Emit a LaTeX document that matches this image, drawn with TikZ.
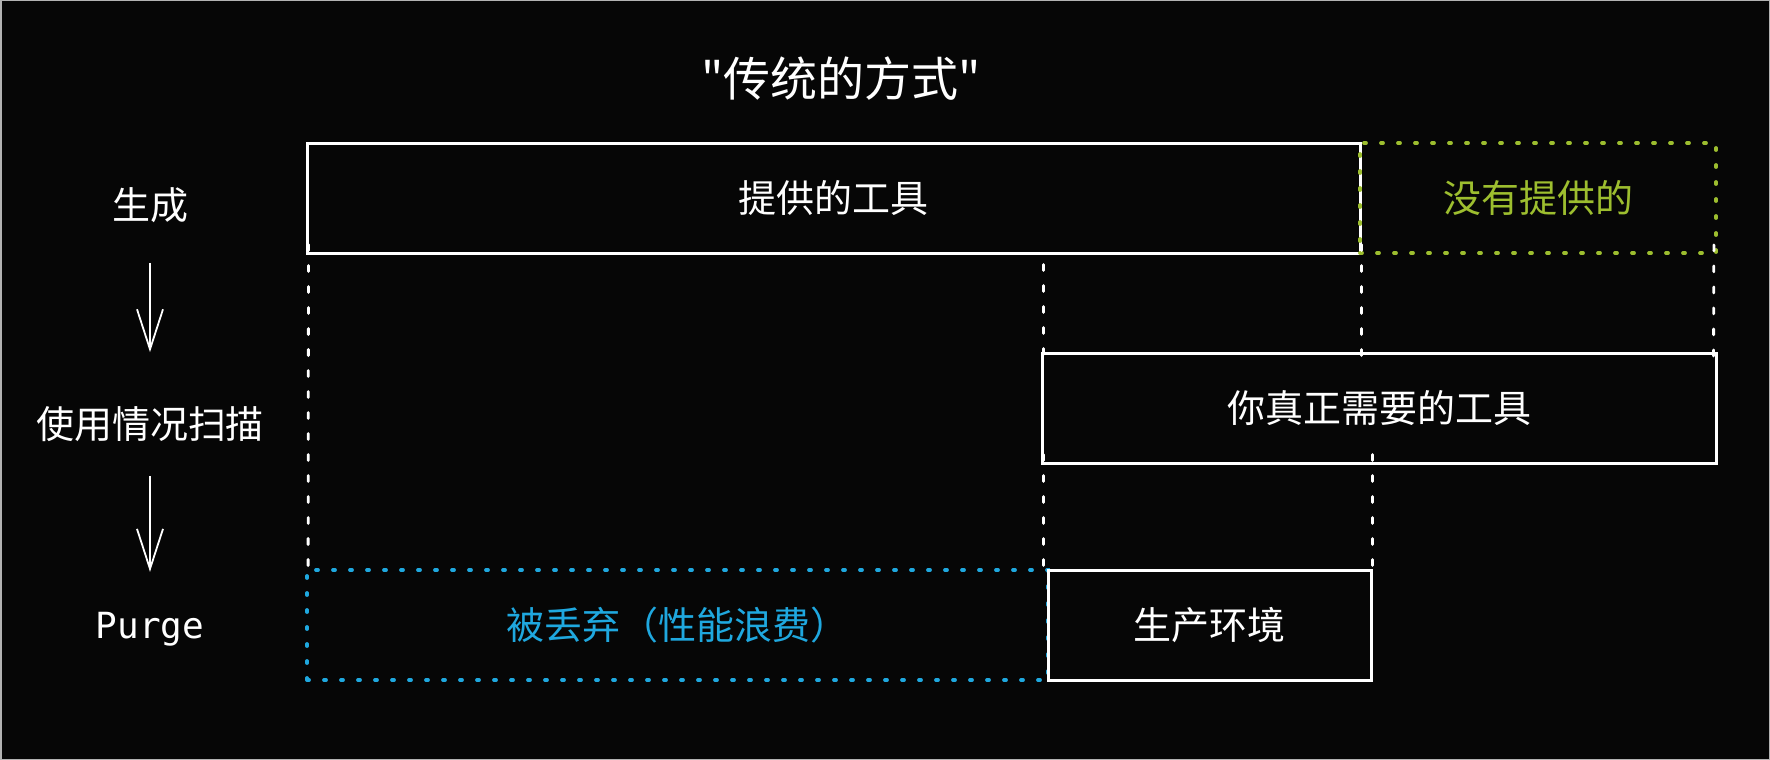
\documentclass[tikz,border=0pt]{standalone}
\usepackage{fontspec}
\newfontfamily\cjk{Noto Sans CJK SC}
\newfontfamily\mono{DejaVu Sans Mono}
\usetikzlibrary{positioning,arrows.meta}
\definecolor{sfondo}{HTML}{060606}
\definecolor{verde}{HTML}{9DBE2F}
\definecolor{blu}{HTML}{1FA8DF}

\begin{document}
\begin{tikzpicture}[x=1pt,y=-1pt]

% definizione stile dei box
\tikzset{mybox/.style={rectangle, draw=white, line width=3pt, minimum width=#1, minimum height=110pt, inner sep=0pt, text=white, font=\cjk\fontsize{38}{44}\selectfont}}
% box tratteggiato colorato
\tikzset{mydots/.style={rectangle, draw=#1, text=#1, line width=3.8pt, line cap=round, dash pattern=on 2pt off 15pt, inner sep=0pt, minimum height=110pt, font=\cjk\fontsize{38}{44}\selectfont}}
% linee guida bianche
\tikzset{myguide/.style={draw=white, line width=2.8pt, line cap=round, dash pattern=on 6pt off 15pt}}
% etichette a sinistra e frecce
\tikzset{mylabel/.style={text=white, font=\cjk\fontsize{38}{44}\selectfont, inner sep=0pt}}
\tikzset{myarrow/.style={draw=white, line width=1.8pt, -{Straight Barb[length=40pt,width=26pt,line width=1.8pt]}}}

% sfondo
\fill[sfondo] (0,0) rectangle (1770,760);
\useasboundingbox (0,0) rectangle (1770,760);
\draw[gray!60, line width=1.5pt] (0.75,0.75) rectangle (1769.25,759.25);

% titolo
\node[text=white, font=\cjk\fontsize{47}{52}\selectfont] (titolo) at (841,79) {"传统的方式"};

% box principali
\node[mybox=1053pt] (fornito) at (833.5,198) {提供的工具};
\node[mydots=verde, minimum width=356pt] (nonfornito) at (1538,198) {没有提供的};
\node[mybox=674pt] (necessario) at (1379,408) {你真正需要的工具};
\node[mydots=blu, minimum width=741pt] (scartato) at (677.5,625) {被丢弃（性能浪费）};
\node[mybox=323pt] (produzione) at (1209.5,625.5) {生产环境};

% linee guida tratteggiate
\draw[myguide] ([xshift=3pt,yshift=10pt]fornito.south west) -- ([xshift=3pt]scartato.north west);
\draw[myguide] (necessario.north west |- fornito.south) ++(3,10) -- ([xshift=3pt,yshift=-10pt]necessario.north west);
\draw[myguide] ([yshift=10pt]fornito.south east) -- ([yshift=-10pt]fornito.south east |- necessario.north);
\draw[myguide] ([xshift=-4pt,yshift=10pt]nonfornito.south east) -- ([xshift=-4pt,yshift=-10pt]necessario.north east);
\draw[myguide] ([xshift=3pt,yshift=10pt]necessario.south west) -- ([xshift=-3pt,yshift=-10pt]produzione.north west);
\draw[myguide] ([yshift=10pt]produzione.north east |- necessario.south) -- ([yshift=-10pt]produzione.north east);

% fasi a sinistra
\node[mylabel] (genera) at (150,205) {生成};
\node[mylabel] (scansione) at (150,424) {使用情况扫描};
\node[mylabel, font=\mono\fontsize{36}{40}\selectfont] (purge) at (150,629) {Purge};

% frecce tra le fasi
\draw[myarrow, shorten <=40pt, shorten >=54pt] (genera.south) -- (scansione.north);
\draw[myarrow, shorten <=34pt, shorten >=40pt] (scansione.south) -- (purge.north);

\end{tikzpicture}
\end{document}
